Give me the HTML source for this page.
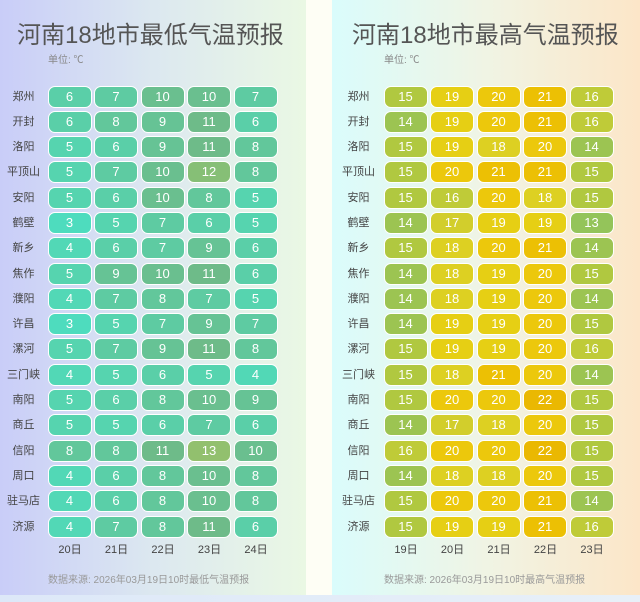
<!DOCTYPE html><html><head><meta charset="utf-8"><style>
body{margin:0;width:640px;height:602px;background:#fefef5;position:relative;overflow:hidden;font-family:"Liberation Sans","Noto Sans CJK SC",sans-serif}
.bot{position:absolute;left:0;top:595px;width:640px;height:7px;background:linear-gradient(90deg,#dde8f8,#e8f0f8)}
.p{position:absolute;top:0;height:595px}
.L{left:0;width:306px;background:linear-gradient(90deg,#c9cdf8,#dce8f0 50%,#eaf8e4)}
.R{left:332px;width:308px;background:linear-gradient(90deg,#dafcfc,#f0f4e4 50%,#fce6c8)}
h1{position:absolute;margin:0;font-weight:normal;font-size:24px;color:#555;top:15px;white-space:nowrap}
.u{position:absolute;top:51px;font-size:10px;color:#888}
.f{position:absolute;top:571px;font-size:10px;color:#999;white-space:nowrap}
.g{position:absolute;top:85.5px}
.r{height:25.3px;position:relative}
.n{position:absolute;right:100%;margin-right:-1px;width:50px;text-align:center;font-size:11px;color:#444;line-height:22px;white-space:nowrap}
.R .n{margin-right:0}
.r b{position:absolute;top:0;width:42px;height:20px;border:1.5px solid #fff;border-radius:7px;color:#fff;font-weight:normal;font-size:13px;text-align:center;line-height:20px}
.r b:nth-of-type(1){left:0}.r b:nth-of-type(2){left:46.5px}.r b:nth-of-type(3){left:93px}.r b:nth-of-type(4){left:139.5px}.r b:nth-of-type(5){left:186px}
.d{position:relative;height:20px;font-size:11px;color:#444}
.d span{position:absolute;width:45px;text-align:center;top:0}
.c3{background:#4edcbe}.c4{background:#52d8b6}.c5{background:#56d4af}.c6{background:#5acfa8}.c7{background:#5ecba2}.c8{background:#62c79b}.c9{background:#66c395}.c10{background:#6abf8f}.c11{background:#6ebb89}.c12{background:#86bf76}.c13{background:#92c06e}
.h13{background:#94c45a}.h14{background:#9cc452}.h15{background:#b0c840}.h16{background:#bfcb38}.h17{background:#d2ce2c}.h18{background:#ddd022}.h19{background:#e6cf14}.h20{background:#ecc80c}.h21{background:#ecc004}.h22{background:#eab802}
</style></head><body>
<div class="p L">
<h1 style="left:17px">河南18地市最低气温预报</h1>
<div class="u" style="left:48px">单位: ℃</div>
<div class="g" style="left:47.5px">
<div class="r"><span class="n">郑州</span><b class="c6">6</b><b class="c7">7</b><b class="c10">10</b><b class="c10">10</b><b class="c7">7</b></div>
<div class="r"><span class="n">开封</span><b class="c6">6</b><b class="c8">8</b><b class="c9">9</b><b class="c11">11</b><b class="c6">6</b></div>
<div class="r"><span class="n">洛阳</span><b class="c5">5</b><b class="c6">6</b><b class="c9">9</b><b class="c11">11</b><b class="c8">8</b></div>
<div class="r"><span class="n">平顶山</span><b class="c5">5</b><b class="c7">7</b><b class="c10">10</b><b class="c12">12</b><b class="c8">8</b></div>
<div class="r"><span class="n">安阳</span><b class="c5">5</b><b class="c6">6</b><b class="c10">10</b><b class="c8">8</b><b class="c5">5</b></div>
<div class="r"><span class="n">鹤壁</span><b class="c3">3</b><b class="c5">5</b><b class="c7">7</b><b class="c6">6</b><b class="c5">5</b></div>
<div class="r"><span class="n">新乡</span><b class="c4">4</b><b class="c6">6</b><b class="c7">7</b><b class="c9">9</b><b class="c6">6</b></div>
<div class="r"><span class="n">焦作</span><b class="c5">5</b><b class="c9">9</b><b class="c10">10</b><b class="c11">11</b><b class="c6">6</b></div>
<div class="r"><span class="n">濮阳</span><b class="c4">4</b><b class="c7">7</b><b class="c8">8</b><b class="c7">7</b><b class="c5">5</b></div>
<div class="r"><span class="n">许昌</span><b class="c3">3</b><b class="c5">5</b><b class="c7">7</b><b class="c9">9</b><b class="c7">7</b></div>
<div class="r"><span class="n">漯河</span><b class="c5">5</b><b class="c7">7</b><b class="c9">9</b><b class="c11">11</b><b class="c8">8</b></div>
<div class="r"><span class="n">三门峡</span><b class="c4">4</b><b class="c5">5</b><b class="c6">6</b><b class="c5">5</b><b class="c4">4</b></div>
<div class="r"><span class="n">南阳</span><b class="c5">5</b><b class="c6">6</b><b class="c8">8</b><b class="c10">10</b><b class="c9">9</b></div>
<div class="r"><span class="n">商丘</span><b class="c5">5</b><b class="c5">5</b><b class="c6">6</b><b class="c7">7</b><b class="c6">6</b></div>
<div class="r"><span class="n">信阳</span><b class="c8">8</b><b class="c8">8</b><b class="c11">11</b><b class="c13">13</b><b class="c10">10</b></div>
<div class="r"><span class="n">周口</span><b class="c4">4</b><b class="c6">6</b><b class="c8">8</b><b class="c10">10</b><b class="c8">8</b></div>
<div class="r"><span class="n">驻马店</span><b class="c4">4</b><b class="c6">6</b><b class="c8">8</b><b class="c10">10</b><b class="c8">8</b></div>
<div class="r"><span class="n">济源</span><b class="c4">4</b><b class="c7">7</b><b class="c8">8</b><b class="c11">11</b><b class="c6">6</b></div>
<div class="d"><span style="left:0">20日</span><span style="left:46.5px">21日</span><span style="left:93px">22日</span><span style="left:139.5px">23日</span><span style="left:186px">24日</span></div>
</div>
<div class="f" style="left:48px">数据来源: 2026年03月19日10时最低气温预报</div>
</div>
<div class="p R">
<h1 style="left:20px">河南18地市最高气温预报</h1>
<div class="u" style="left:52px">单位: ℃</div>
<div class="g" style="left:51.5px">
<div class="r"><span class="n">郑州</span><b class="h15">15</b><b class="h19">19</b><b class="h20">20</b><b class="h21">21</b><b class="h16">16</b></div>
<div class="r"><span class="n">开封</span><b class="h14">14</b><b class="h19">19</b><b class="h20">20</b><b class="h21">21</b><b class="h16">16</b></div>
<div class="r"><span class="n">洛阳</span><b class="h15">15</b><b class="h19">19</b><b class="h18">18</b><b class="h20">20</b><b class="h14">14</b></div>
<div class="r"><span class="n">平顶山</span><b class="h15">15</b><b class="h20">20</b><b class="h21">21</b><b class="h21">21</b><b class="h15">15</b></div>
<div class="r"><span class="n">安阳</span><b class="h15">15</b><b class="h16">16</b><b class="h20">20</b><b class="h18">18</b><b class="h15">15</b></div>
<div class="r"><span class="n">鹤壁</span><b class="h14">14</b><b class="h17">17</b><b class="h19">19</b><b class="h19">19</b><b class="h13">13</b></div>
<div class="r"><span class="n">新乡</span><b class="h15">15</b><b class="h18">18</b><b class="h20">20</b><b class="h21">21</b><b class="h14">14</b></div>
<div class="r"><span class="n">焦作</span><b class="h14">14</b><b class="h18">18</b><b class="h19">19</b><b class="h20">20</b><b class="h15">15</b></div>
<div class="r"><span class="n">濮阳</span><b class="h14">14</b><b class="h18">18</b><b class="h19">19</b><b class="h20">20</b><b class="h14">14</b></div>
<div class="r"><span class="n">许昌</span><b class="h14">14</b><b class="h19">19</b><b class="h19">19</b><b class="h20">20</b><b class="h15">15</b></div>
<div class="r"><span class="n">漯河</span><b class="h15">15</b><b class="h19">19</b><b class="h19">19</b><b class="h20">20</b><b class="h16">16</b></div>
<div class="r"><span class="n">三门峡</span><b class="h15">15</b><b class="h18">18</b><b class="h21">21</b><b class="h20">20</b><b class="h14">14</b></div>
<div class="r"><span class="n">南阳</span><b class="h15">15</b><b class="h20">20</b><b class="h20">20</b><b class="h22">22</b><b class="h15">15</b></div>
<div class="r"><span class="n">商丘</span><b class="h14">14</b><b class="h17">17</b><b class="h18">18</b><b class="h20">20</b><b class="h15">15</b></div>
<div class="r"><span class="n">信阳</span><b class="h16">16</b><b class="h20">20</b><b class="h20">20</b><b class="h22">22</b><b class="h15">15</b></div>
<div class="r"><span class="n">周口</span><b class="h14">14</b><b class="h18">18</b><b class="h18">18</b><b class="h20">20</b><b class="h15">15</b></div>
<div class="r"><span class="n">驻马店</span><b class="h15">15</b><b class="h20">20</b><b class="h20">20</b><b class="h21">21</b><b class="h14">14</b></div>
<div class="r"><span class="n">济源</span><b class="h15">15</b><b class="h19">19</b><b class="h19">19</b><b class="h21">21</b><b class="h16">16</b></div>
<div class="d"><span style="left:0">19日</span><span style="left:46.5px">20日</span><span style="left:93px">21日</span><span style="left:139.5px">22日</span><span style="left:186px">23日</span></div>
</div>
<div class="f" style="left:52px">数据来源: 2026年03月19日10时最高气温预报</div>
</div>
<div class="bot"></div>
</body></html>
